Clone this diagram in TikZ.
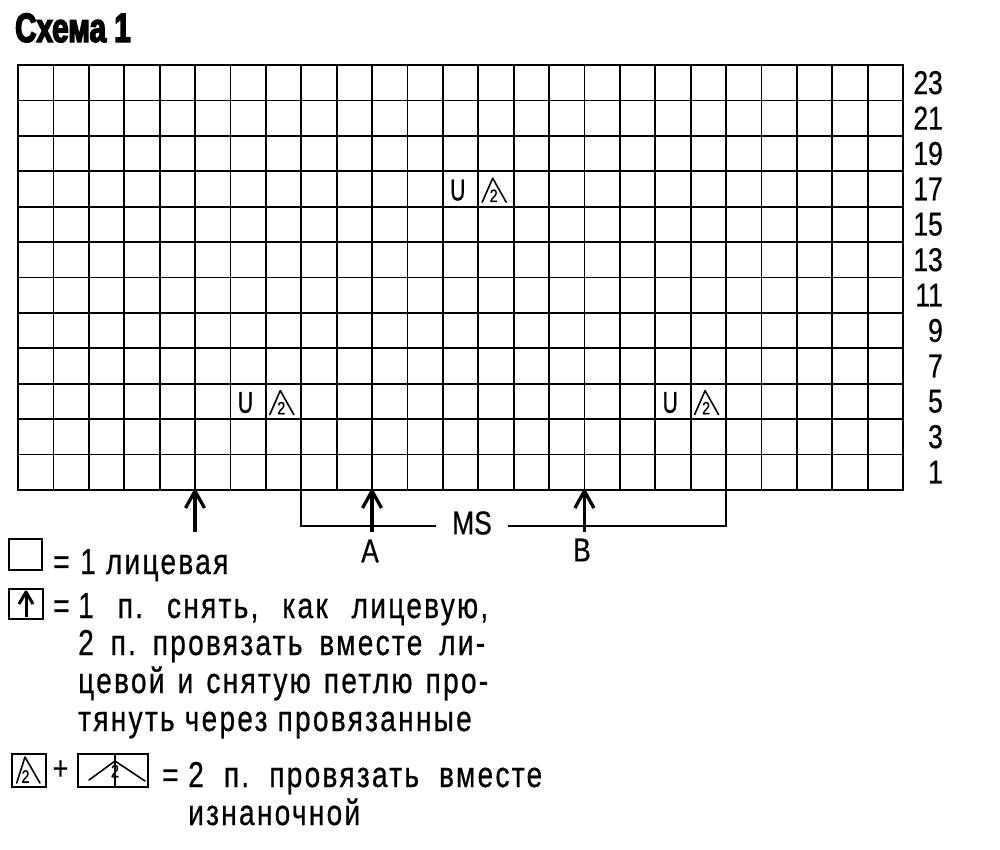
\documentclass[tikz,border=0pt]{standalone}
\usepackage{fontspec}
\newfontfamily\condtxt[FakeStretch=0.78,LetterSpace=6.3,FakeBold=0.6]{Liberation Sans}
\newfontfamily\condnum[FakeStretch=0.8,FakeBold=0.6]{Liberation Sans}
\newfontfamily\condu[FakeStretch=0.7,FakeBold=1]{Liberation Sans}
\newfontfamily\condttl[FakeStretch=0.72,FakeBold=3.5]{Liberation Sans}
\frenchspacing
\tikzset{
 gline/.style={line width=1.8pt},
 frameline/.style={line width=2.6pt},
 symline/.style={line width=1.6pt, line join=round, line cap=round},
 bodytxt/.style={font=\condtxt\fontsize{36}{38}\selectfont, inner sep=0pt, anchor=base west},
 numtxt/.style={font=\condnum\fontsize{33}{36}\selectfont, inner sep=0pt},
 small2/.style={font=\condnum\fontsize{18}{19}\selectfont, inner sep=0pt},
 ulet/.style={font=\condu\fontsize{30}{31}\selectfont, inner sep=0pt},
 legbox/.style={line width=2pt},
 shaft/.style={line width=3.3pt},
 brk/.style={line width=2pt},
}
\newcommand\kpsym[3]{%
 \begin{scope}[shift={(#1,#2)}]
  \draw[symline] (4,31) -- (14.5,7) -- (28,31);
  \node[small2] (#3) at (15.5,24.5) {2};
 \end{scope}}
\newcommand\kparrow[2]{%
 \coordinate (#2) at (#1,491);
 \draw[shaft] (#2) -- ++(0,41);
 \draw[shaft, line join=round] ([shift={(-9.5,17)}]#2) -- (#2) -- ([shift={(9.5,17)}]#2);}
\begin{document}
\begin{tikzpicture}[x=1pt,y=-1pt]
\useasboundingbox (0,0) rectangle (1000,849);
% title
\node[font=\condttl\bfseries\fontsize{41}{44}\selectfont, inner sep=0pt, anchor=base west] (title) at (15,42) {Схема 1};
% grid
\foreach \i in {0,...,25} {\draw[gline] ({18+\i*35.4},65) -- ({18+\i*35.4},489.8);}
\foreach \j in {0,...,12} {\draw[gline] (18,{65+\j*35.4}) -- (903,{65+\j*35.4});}
\draw[frameline] (18,65) rectangle (903,489.8);
% row labels
\foreach \k in {1,...,12} {\pgfmathtruncatemacro\lab{2*\k-1}
  \node[numtxt, anchor=east] (r\k) at (943,{489.8-(\k-0.5)*35.4}) {\lab};}
% symbols
\node[ulet] (u1) at ({230.4+15},{383.6+19}) {U};
\kpsym{265.8}{383.6}{p1}
\node[ulet] (u2) at ({655.2+15},{383.6+19}) {U};
\kpsym{690.6}{383.6}{p2}
\node[ulet] (u3) at ({442.8+15},{171.2+19}) {U};
\kpsym{478.2}{171.2}{p3}
% arrows
\kparrow{195}{arr0}
\kparrow{372}{arrA}
\kparrow{584.4}{arrB}
\node[numtxt] (lA) at (370,551) {A};
\node[numtxt] (lB) at (582,550) {B};
% MS bracket
\node[numtxt] (ms) at (472,523) {MS};
\draw[brk] (301.2,490) -- (301.2,525.5) -- (436,525.5);
\draw[brk] (508,525.5) -- (726,525.5) -- (726,490);
% legend
\draw[legbox] (9,539) rectangle (42,570);
\node[bodytxt] (eq1) at (53,574) {=};
\node[bodytxt] (t1) at (80,574) {1 лицевая};
\draw[legbox] (9,589) rectangle (43,619);
\draw[line width=3pt] (26,617) -- (26,593);
\draw[line width=3pt, line join=round] (19,604) -- (26,592) -- (33,604);
\node[bodytxt] (eq2) at (53,618) {=};
\node[bodytxt] (t2) at (78,618) {\makebox[410pt][s]{1 п. снять, как лицевую,}};
\node[bodytxt] (t3) at (78,655) {\makebox[407pt][s]{2 п. провязать вместе ли-}};
\node[bodytxt] (t4) at (78,693) {\makebox[410pt][s]{цевой и снятую петлю про-}};
\node[bodytxt] (t5) at (78,731) {тянуть через провязанные};
\draw[legbox] (12,754) rectangle (46,787);
\begin{scope}[shift={(12,754)}]
 \draw[symline] (4.7,29) -- (13,3) -- (28,29);
 \node[small2] (lg2) at (13.5,22.5) {2};
\end{scope}
\node[numtxt] (plus) at (60.5,770) {+};
\draw[legbox] (78,754) rectangle (148,787);
\draw[symline] (115,754) -- (115,787);
\draw[symline] (89,780) -- (115,761) -- (145,781);
\node[small2] (lg3) at (115,771) {2};
\node[bodytxt] (eq3) at (162,787) {=};
\node[bodytxt] (t6) at (188,787) {\makebox[354pt][s]{2 п. провязать вместе}};
\node[bodytxt] (t7) at (188,825) {изнаночной};
\end{tikzpicture}
\end{document}
